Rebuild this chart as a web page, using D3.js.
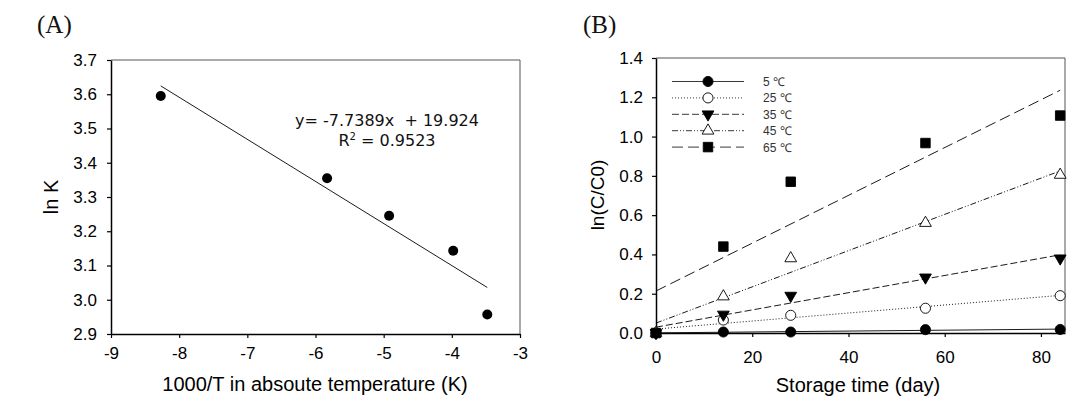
<!DOCTYPE html>
<html><head><meta charset="utf-8">
<script src="https://cdn.jsdelivr.net/npm/d3@7"></script>
<style>body{margin:0;background:#fff}</style>
</head><body><svg id="c" width="1088" height="403"></svg>
<script>
// ---------- DATA ----------
// Panel A
const invT = [-8.27, -5.83, -4.92, -3.98, -3.48];
const lnK = [3.595, 3.355, 3.245, 3.143, 2.957];
const aXTicks = [-9, -8, -7, -6, -5, -4, -3];
const aYTicks = [2.9, 3.0, 3.1, 3.2, 3.3, 3.4, 3.5, 3.6, 3.7];
const eqLine1 = "y= -7.7389x  + 19.924";
const eqR2 = "0.9523";
// Panel B
const days = [0, 14, 28, 56, 84];
const tempLabels = ["5 \u2103", "25 \u2103", "35 \u2103", "45 \u2103", "65 \u2103"];
const s5 = [0, 0.005, 0.005, 0.017, 0.018];
const s25 = [0, 0.066, 0.09, 0.126, 0.19];
const s35 = [0, 0.094, 0.19, 0.283, 0.38];
const s45 = [0, 0.186, 0.38, 0.56, 0.805];
const s65 = [0, 0.44, 0.77, 0.967, 1.107];
const bXTicks = [0, 20, 40, 60, 80];
const bYTicks = [0, 0.2, 0.4, 0.6, 0.8, 1.0, 1.2, 1.4];

// ---------- STYLES ----------
const seriesB = [s5, s25, s35, s45, s65];
const dashes = [null, "1,2", "7,3", "6,2,1,2,1,2", "11,5"];
const marks = [
  {type: d3.symbolCircle, size: 80, fill: "#000", rot: 0},
  {type: d3.symbolCircle, size: 80, fill: "#fff", rot: 0},
  {type: d3.symbolTriangle, size: 60, fill: "#000", rot: 180},
  {type: d3.symbolTriangle, size: 60, fill: "#fff", rot: 0},
  {type: d3.symbolSquare, size: 90, fill: "#000", rot: 0}
];

function linreg(xs, ys) {
  const mx = d3.mean(xs), my = d3.mean(ys);
  let sxy = 0, sxx = 0;
  xs.forEach((x, i) => { sxy += (x - mx) * (ys[i] - my); sxx += (x - mx) * (x - mx); });
  const b = sxy / sxx;
  return {b: b, a: my - b * mx};
}

const svg = d3.select("#c");
const tickFont = "'Liberation Sans', Arial, sans-serif";

function frame(x0, x1, y0, y1) {
  svg.append("path").attr("d", `M${x0},${y0}H${x1}V${y1}`)
    .attr("fill", "none").attr("stroke", "#555").attr("stroke-width", 1);
}
function styleAxis(g) {
  g.selectAll("text").attr("font-family", tickFont).attr("font-size", 17).attr("fill", "#000");
  g.selectAll("line").attr("stroke", "#000").attr("stroke-width", 1.2);
  g.select(".domain").attr("stroke", "#000").attr("stroke-width", 1.5);
}
const hyph = d => String(d);

// ---------- PANEL A ----------
const xA = d3.scaleLinear().domain([-9, -3]).range([111, 520]);
const yA = d3.scaleLinear().domain([2.9, 3.7]).range([334, 60]);
frame(111, 520, 60, 334);
svg.append("g").attr("transform", "translate(0,334)")
  .call(d3.axisBottom(xA).tickValues(aXTicks).tickSize(4).tickSizeOuter(0).tickPadding(9).tickFormat(hyph))
  .call(styleAxis);
svg.append("g").attr("transform", "translate(111,0)")
  .call(d3.axisLeft(yA).tickValues(aYTicks).tickSize(4).tickSizeOuter(0).tickPadding(10).tickFormat(d3.format(".1f")))
  .call(styleAxis);

const rA = linreg(invT, lnK);
const xmin = d3.min(invT), xmax = d3.max(invT);
svg.append("line")
  .attr("x1", xA(xmin)).attr("y1", yA(rA.a + rA.b * xmin))
  .attr("x2", xA(xmax)).attr("y2", yA(rA.a + rA.b * xmax))
  .attr("stroke", "#000").attr("stroke-width", 0.9);
svg.append("g").selectAll("circle").data(invT).join("circle")
  .attr("cx", d => xA(d)).attr("cy", (d, i) => yA(lnK[i])).attr("r", 5).attr("fill", "#000");

svg.append("text").attr("x", 387).attr("y", 126).attr("text-anchor", "middle")
  .attr("font-family", "'DejaVu Sans', sans-serif").attr("font-size", 16).attr("fill", "#111")
  .style("white-space", "pre").text(eqLine1);
const r2 = svg.append("text").attr("x", 387).attr("y", 146).attr("text-anchor", "middle")
  .attr("font-family", "'DejaVu Sans', sans-serif").attr("font-size", 16).attr("fill", "#111");
r2.append("tspan").text("R");
r2.append("tspan").attr("dy", -6).attr("font-size", 10).text("2");
r2.append("tspan").attr("dy", 6).style("white-space", "pre").text(" = " + eqR2);

svg.append("text").attr("x", 315).attr("y", 391).attr("text-anchor", "middle")
  .attr("font-family", tickFont).attr("font-size", 20).attr("fill", "#000")
  .text("1000/T in absoute temperature (K)");
svg.append("text").attr("transform", "translate(58,197) rotate(-90)").attr("text-anchor", "middle")
  .attr("font-family", tickFont).attr("font-size", 20).attr("fill", "#000").text("ln K");
svg.append("text").attr("x", 37).attr("y", 33)
  .attr("font-family", "'Liberation Serif', 'Times New Roman', serif").attr("font-size", 25).attr("fill", "#111").text("(A)");

// ---------- PANEL B ----------
const xB = d3.scaleLinear().domain([0, 85]).range([656, 1065]);
const yB = d3.scaleLinear().domain([0, 1.4]).range([333, 58]);
frame(656, 1065, 58, 333);
svg.append("g").attr("transform", "translate(0,333)")
  .call(d3.axisBottom(xB).tickValues(bXTicks).tickSize(4).tickSizeOuter(0).tickPadding(14).tickFormat(hyph))
  .call(styleAxis);
svg.append("g").attr("transform", "translate(656,0)")
  .call(d3.axisLeft(yB).tickValues(bYTicks).tickSize(4).tickSizeOuter(0).tickPadding(9).tickFormat(d3.format(".1f")))
  .call(styleAxis);

const gl = svg.append("g");
seriesB.forEach((s, k) => {
  const r = linreg(days, s);
  const x0 = d3.min(days), x1 = d3.max(days);
  gl.append("line")
    .attr("x1", xB(x0)).attr("y1", yB(r.a + r.b * x0))
    .attr("x2", xB(x1)).attr("y2", yB(r.a + r.b * x1))
    .attr("stroke", "#000").attr("stroke-width", 0.9)
    .attr("stroke-dasharray", dashes[k]);
});
const gm = svg.append("g");
seriesB.forEach((s, k) => {
  const m = marks[k];
  gm.selectAll(null).data(s).join("path")
    .attr("d", d3.symbol().type(m.type).size(m.size))
    .attr("transform", (d, i) => `translate(${xB(days[i])},${yB(d)}) rotate(${m.rot})`)
    .attr("fill", m.fill).attr("stroke", "#000").attr("stroke-width", 0.9);
});

// legend
const lg = svg.append("g");
tempLabels.forEach((t, k) => {
  const y = 81.5 + k * 16.4;
  lg.append("line").attr("x1", 672).attr("x2", 744).attr("y1", y).attr("y2", y)
    .attr("stroke", "#222").attr("stroke-width", 0.9).attr("stroke-dasharray", dashes[k]);
  const m = marks[k];
  lg.append("path").attr("d", d3.symbol().type(m.type).size(m.size))
    .attr("transform", `translate(708,${y}) rotate(${m.rot})`)
    .attr("fill", m.fill).attr("stroke", "#000").attr("stroke-width", 0.9);
  lg.append("text").attr("x", 763).attr("y", y + 4.5)
    .attr("font-family", tickFont).attr("font-size", 12).attr("fill", "#333").text(t);
});

svg.append("text").attr("x", 858).attr("y", 392).attr("text-anchor", "middle")
  .attr("font-family", tickFont).attr("font-size", 20).attr("fill", "#000").text("Storage time (day)");
svg.append("text").attr("transform", "translate(604,195) rotate(-90)").attr("text-anchor", "middle")
  .attr("font-family", tickFont).attr("font-size", 19).attr("fill", "#000").text("ln(C/C0)");
svg.append("text").attr("x", 583).attr("y", 33)
  .attr("font-family", "'Liberation Serif', 'Times New Roman', serif").attr("font-size", 25).attr("fill", "#111").text("(B)");
</script></body></html>
